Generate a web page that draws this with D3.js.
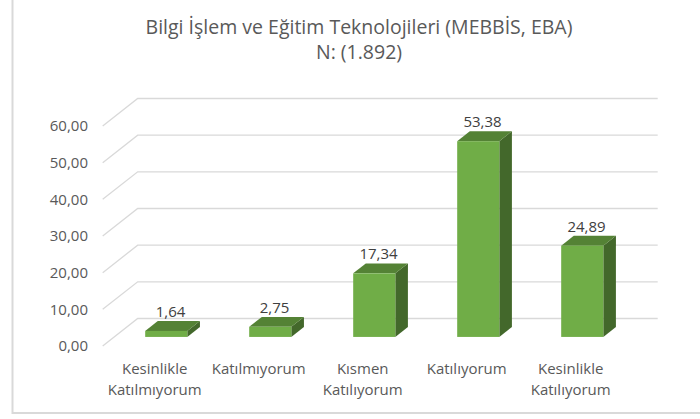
<!DOCTYPE html>
<html>
<head>
<meta charset="utf-8">
<script src="https://cdn.jsdelivr.net/npm/d3@7"></script>
<style>
  body { margin: 0; background: #fff; }
  svg { display: block; font-family: "Open Sans", sans-serif; }
</style>
</head>
<body>
<svg id="chart" width="700" height="419"></svg>
<script>
// data
let categories = [
  ["Kesinlikle", "Katılmıyorum"],
  ["Katılmıyorum"],
  ["Kısmen", "Katılıyorum"],
  ["Katılıyorum"],
  ["Kesinlikle", "Katılıyorum"]
];
let values = [1.64, 2.75, 17.34, 53.38, 24.89];
let yTicks = [0, 10, 20, 30, 40, 50, 60];
let titleLines = ["Bilgi İşlem ve Eğitim Teknolojileri (MEBBİS, EBA)", "N: (1.892)"];

let svg = d3.select("#chart");

// chart frame (cut off at top and right like the source)
svg.append("path")
  .attr("d", "M12.5,-2 V413 H702")
  .attr("fill", "none")
  .attr("stroke", "#d9d9d9")
  .attr("stroke-width", 2);

// 3d geometry: front floor line and a depth vector
let floorY = 346;
let depth = {dx: 35, dy: -27.5};
let zFront = 0.33, zBack = 0.69;

let x = d3.scaleBand()
  .domain(d3.range(values.length))
  .range([102.7, 622.7]);

let h = d3.scaleLinear()
  .domain([0, 60])
  .range([0, 220]);

let fmt = v => d3.format(".2f")(v).replace(".", ",");

// gridlines: side wall diagonals + back wall lines
let grid = svg.append("g");
yTicks.forEach(t => {
  let fy = floorY - h(t);
  let x0 = x.range()[0];
  grid.append("path")
    .attr("d", `M${x0},${fy} L${x0 + depth.dx},${fy + depth.dy} L${x.range()[1] + depth.dx},${fy + depth.dy}`)
    .attr("fill", "none")
    .attr("stroke", "#d9d9d9")
    .attr("stroke-width", 1.3);

  svg.append("text")
    .attr("x", 88)
    .attr("y", fy)
    .attr("dy", "0.35em")
    .attr("text-anchor", "end")
    .attr("font-size", 15)
    .attr("fill", "#595959")
    .text(fmt(t));
});

// bars
let barW = x.bandwidth() * 0.405;
let bars = svg.append("g");
values.forEach((v, i) => {
  let cx = x(i) + x.bandwidth() / 2;
  let fx0 = cx - barW / 2 + depth.dx * zFront;
  let fx1 = fx0 + barW;
  let fb = floorY + depth.dy * zFront;
  let ft = fb - h(v);
  let ddx = depth.dx * (zBack - zFront), ddy = depth.dy * (zBack - zFront);

  // side face
  bars.append("path")
    .attr("d", `M${fx1},${fb} L${fx1 + ddx},${fb + ddy} L${fx1 + ddx},${ft + ddy} L${fx1},${ft} Z`)
    .attr("fill", "#43682b");
  // top face
  bars.append("path")
    .attr("d", `M${fx0},${ft} L${fx1},${ft} L${fx1 + ddx},${ft + ddy} L${fx0 + ddx},${ft + ddy} Z`)
    .attr("fill", "#548235");
  // front face
  bars.append("rect")
    .attr("x", fx0)
    .attr("y", ft)
    .attr("width", barW)
    .attr("height", fb - ft)
    .attr("fill", "#70ad47");

  svg.append("text")
    .attr("x", cx + depth.dx * (zFront + zBack) / 2 - 2)
    .attr("y", ft + ddy - 4)
    .attr("text-anchor", "middle")
    .attr("font-size", 15)
    .attr("fill", "#404040")
    .text(fmt(v));
});

// category labels
categories.forEach((lines, i) => {
  let t = svg.append("text")
    .attr("text-anchor", "middle")
    .attr("font-size", 15)
    .attr("fill", "#595959");
  lines.forEach((ln, j) => {
    t.append("tspan")
      .attr("x", x(i) + x.bandwidth() / 2)
      .attr("y", 369 + j * 20.5)
      .attr("dy", "0.35em")
      .text(ln);
  });
});

// title
titleLines.forEach((ln, j) => {
  svg.append("text")
    .attr("x", 359)
    .attr("y", 27 + j * 25)
    .attr("dy", "0.35em")
    .attr("text-anchor", "middle")
    .attr("font-size", 19.5)
    .attr("fill", "#595959")
    .text(ln);
});
</script>
</body>
</html>
